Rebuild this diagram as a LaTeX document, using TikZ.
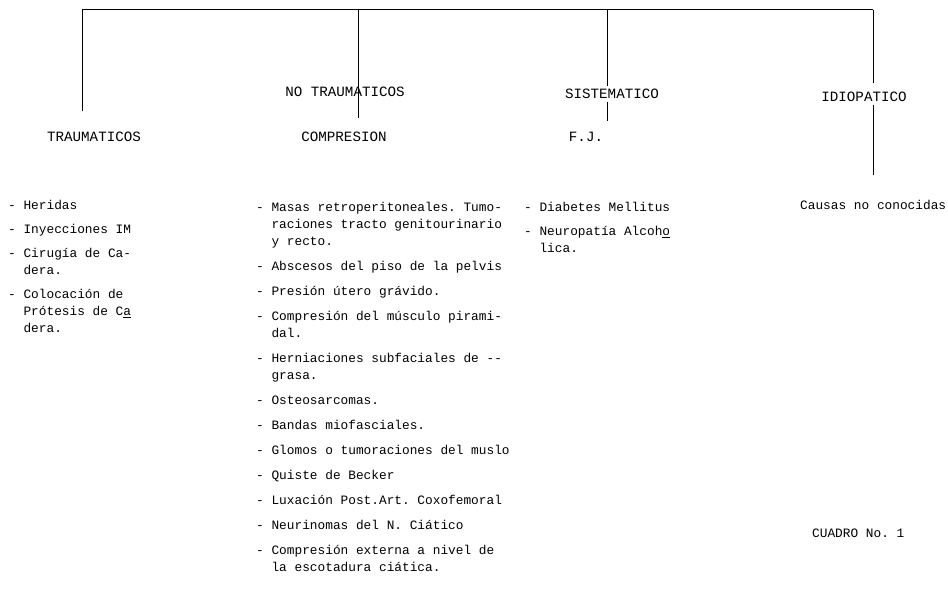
\documentclass[tikz,border=0pt]{standalone}
\usepackage{fontspec}
\setmonofont{Liberation Mono}
\usepackage{tikz}
\usetikzlibrary{calc}
\tikzset{
    rama/.style={line width=1pt},
    titulo/.style={font=\ttfamily\fontsize{14.2}{17}\selectfont, inner sep=0pt, anchor=base},
    lista/.style={font=\ttfamily\fontsize{12.8}{17}\selectfont, inner sep=0pt, anchor=north west,
        align=left, execute at begin node={\rule{0pt}{14pt}}},
}

\begin{document}
\begin{tikzpicture}[
                x=1pt, y=-1pt, % 像素坐标
            ]
            \useasboundingbox (0,0) rectangle (948,610);
            % 顶部横线
            \coordinate (bL) at (82,10);
            \coordinate (bM) at (358,10);
            \coordinate (bS) at (607,10);
            \coordinate (bI) at (873,10);
            \draw[rama] (bL) -- (bI);

            % 标题
            \node[titulo] (trauma) at (94,141) {TRAUMATICOS};
            \node[titulo] (notrauma) at (345,96) {NO TRAUMATICOS};
            \node[titulo] (compr) at (344,141) {COMPRESION};
            \node[titulo] (sist) at (612,99) {SISTEMATICO};
            \node[titulo] (fj) at (586,141) {F.J.};
            \node[titulo] (idio) at (864,101) {IDIOPATICO};
            \node[lista] (causas) at (800,195.4) {Causas no conocidas};

            % 竖线
            \draw[rama] (bL) -- ([yshift=20pt]trauma.north -| bL);
            \draw[rama] (bM) -- ([yshift=13pt]compr.north -| bM);
            \draw[rama] (bS) -- ([yshift=3pt]sist.north -| bS);
            \draw[rama] ([yshift=-3pt]sist.south -| bS) -- ([yshift=10pt]fj.north -| bS);
            \draw[rama] (bI) -- ([yshift=8pt]idio.north -| bI);
            \draw[rama] ([yshift=-4pt]idio.south -| bI) -- ([yshift=20pt]causas.north -| bI);

            % 创伤性
            \node[lista] (t1) at (8,195.4) {- Heridas};
            \node[lista] (t2) at (8,219.4) {- Inyecciones IM};
            \node[lista] (t3) at (8,248.4) {- Cirugía de Ca-\\\hphantom{- }dera.};
            \node[lista] (t4) at (8,289.4) {- Colocación de\\\hphantom{- }Prótesis de C\underline{a}\\\hphantom{- }dera.};

            % 压迫
            \node[lista] (c1) at (256,202.4) {- Masas retroperitoneales. Tumo-\\\hphantom{- }raciones tracto genitourinario\\\hphantom{- }y recto.};
            \node[lista] (c2) at (256,256.4) {- Abscesos del piso de la pelvis};
            \node[lista] (c3) at (256,281.4) {- Presión útero grávido.};
            \node[lista] (c4) at (256,311.4) {- Compresión del músculo pirami-\\\hphantom{- }dal.};
            \node[lista] (c5) at (256,353.4) {- Herniaciones subfaciales de --\\\hphantom{- }grasa.};
            \node[lista] (c6) at (256,390.4) {- Osteosarcomas.};
            \node[lista] (c7) at (256,415.4) {- Bandas miofasciales.};
            \node[lista] (c8) at (256,440.4) {- Glomos o tumoraciones del muslo};
            \node[lista] (c9) at (256,465.4) {- Quiste de Becker};
            \node[lista] (c10) at (256,490.4) {- Luxación Post.Art. Coxofemoral};
            \node[lista] (c11) at (256,515.4) {- Neurinomas del N. Ciático};
            \node[lista] (c12) at (256,545.4) {- Compresión externa a nivel de\\\hphantom{- }la escotadura ciática.};

            % 系统性
            \node[lista] (s1) at (524,197.4) {- Diabetes Mellitus};
            \node[lista] (s2) at (524,226.4) {- Neuropatía Alcoh\underline{o}\\\hphantom{- }lica.};

            \node[lista] (cuadro) at (812,523.4) {CUADRO No. 1};
            \end{tikzpicture}
\end{document}
